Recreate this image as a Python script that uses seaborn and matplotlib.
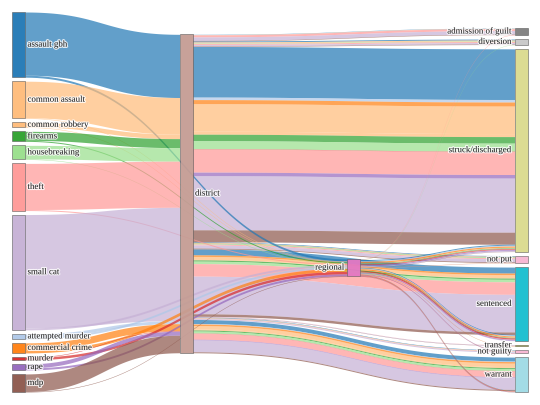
import numpy as np
import pandas as pd
import seaborn as sns
import matplotlib
matplotlib.use("Agg")
import matplotlib.pyplot as plt
from matplotlib import patheffects

# case counts: crime -> court -> outcome
crimes = ["assault gbh", "common assault", "common robbery", "firearms", "housebreaking",
          "theft", "small cat", "attempted murder", "commercial crime", "murder", "rape", "mdp"]
courts = ["district", "regional"]
outcomes = ["admission of guilt", "diversion", "struck/discharged", "not put",
            "sentenced", "transfer", "not guilty", "warrant"]

# columns follow the outcomes list
district_counts = {
    "assault gbh":      [3, 10, 505, 7, 60, 0, 5, 40],
    "common assault":   [3, 10, 275, 7, 30, 0, 5, 35],
    "common robbery":   [0, 0, 30, 0, 5, 0, 0, 10],
    "firearms":         [0, 0, 65, 3, 12, 0, 0, 10],
    "housebreaking":    [0, 5, 80, 5, 25, 0, 0, 20],
    "theft":            [20, 10, 230, 10, 125, 2, 3, 60],
    "small cat":        [35, 15, 540, 30, 375, 5, 10, 120],
    "attempted murder": [0, 0, 25, 0, 0, 0, 0, 5],
    "commercial crime": [0, 0, 40, 0, 15, 0, 0, 15],
    "murder":           [0, 0, 3, 0, 0, 0, 0, 2],
    "rape":             [0, 0, 35, 0, 0, 0, 0, 5],
    "mdp":              [5, 5, 120, 8, 25, 2, 0, 10],
}
regional_counts = {
    "assault gbh":      [0, 0, 10, 0, 7, 0, 0, 3],
    "common assault":   [0, 0, 3, 0, 2, 0, 0, 0],
    "common robbery":   [0, 0, 3, 0, 2, 0, 0, 0],
    "firearms":         [0, 0, 5, 0, 5, 0, 0, 0],
    "housebreaking":    [0, 3, 2, 0, 0, 0, 0, 0],
    "theft":            [4, 0, 3, 0, 3, 0, 0, 0],
    "small cat":        [0, 0, 10, 3, 5, 0, 0, 2],
    "attempted murder": [0, 0, 8, 0, 8, 0, 4, 0],
    "commercial crime": [0, 0, 12, 2, 10, 2, 0, 4],
    "murder":           [0, 0, 7, 0, 12, 0, 3, 3],
    "rape":             [0, 0, 8, 0, 8, 0, 2, 2],
    "mdp":              [0, 0, 2, 0, 0, 1, 0, 2],
}

pal = sns.color_palette("tab20")
node_color = {
    "assault gbh": pal[0], "attempted murder": pal[1], "commercial crime": pal[2],
    "common assault": pal[3], "common robbery": pal[3], "firearms": pal[4],
    "housebreaking": pal[5], "murder": pal[6], "theft": pal[7], "rape": pal[8],
    "small cat": pal[9], "mdp": pal[10], "district": pal[11], "regional": pal[12],
    "not put": pal[13], "not guilty": pal[13], "admission of guilt": pal[14],
    "diversion": pal[15], "transfer": pal[16], "struck/discharged": pal[17],
    "sentenced": pal[18], "warrant": pal[19],
}
# order links of equal endpoints are stacked in
tie_order = ["assault gbh", "attempted murder", "commercial crime", "common assault",
             "common robbery", "firearms", "housebreaking", "murder", "theft", "rape",
             "small cat", "mdp"]

rows = []
for court, table in (("district", district_counts), ("regional", regional_counts)):
    for crime, vals in table.items():
        for outcome, n in zip(outcomes, vals):
            if n > 0:
                rows.append((crime, court, outcome, n))
flows = pd.DataFrame(rows, columns=["crime", "court", "outcome", "n"])

# ---- layout (pixel space) ----
W, H = 540, 405
top, bottom = 12, 392
node_w = 13
pad = 4
col_x = np.linspace(12, 527.5 - node_w, 4)
court_col = {"district": 1, "regional": 2}

crime_tot = flows.groupby("crime")["n"].sum().reindex(crimes)
court_tot = flows.groupby("court")["n"].sum().reindex(courts)
out_tot = flows.groupby("outcome")["n"].sum().reindex(outcomes)
ky = (bottom - top - pad * (len(crimes) - 1)) / crime_tot.sum()

pos = {}  # name -> (x0, y0, height)
y = top
for c in crimes:
    pos[c] = (col_x[0], y, crime_tot[c] * ky)
    y += crime_tot[c] * ky + pad

# courts centred on the mean of their sources
cc = flows.groupby(["crime", "court"])["n"].sum().reset_index()
for ct in courts:
    sub = cc[cc.court == ct]
    centres = np.array([pos[c][1] + pos[c][2] / 2 for c in sub.crime])
    mid = np.average(centres, weights=sub.n)
    h = court_tot[ct] * ky
    pos[ct] = (col_x[court_col[ct]], mid - h / 2, h)

# outcomes stacked up from the bottom
y = bottom
for o in reversed(outcomes):
    h = out_tot[o] * ky
    y -= h
    pos[o] = (col_x[3], y, h)
    y -= pad


def band(ax, x0, ya, yb, x1, yc, yd, color, alpha=0.7, z=1):
    t = np.linspace(0, 1, 80)
    xm = (x0 + x1) / 2
    xs = (1 - t) ** 3 * x0 + 3 * (1 - t) ** 2 * t * xm + 3 * (1 - t) * t ** 2 * xm + t ** 3 * x1
    s = 3 * t ** 2 - 2 * t ** 3
    ax.fill_between(xs, ya + (yc - ya) * s, yb + (yd - yb) * s,
                    color=color, alpha=alpha, lw=0, zorder=z)


sns.set_style("white")
plt.rcParams["font.family"] = ["Liberation Serif", "DejaVu Serif"]
fig = plt.figure(figsize=(5.4, 4.05), dpi=100)
ax = fig.add_axes([0, 0, 1, 1])
ax.set_xlim(0, W)
ax.set_ylim(H, 0)
ax.axis("off")

# court -> outcome links, coloured by crime
out_off = {ct: pos[ct][1] for ct in courts}
in_off = {o: pos[o][1] for o in outcomes}
rank = {c: i for i, c in enumerate(tie_order)}
flows["tie"] = flows.crime.map(rank)
flows["oi"] = flows.outcome.map(outcomes.index)
flows["ci"] = flows.court.map(courts.index)
src_y, dst_y = {}, {}
for ct in courts:
    for _, r in flows[flows.court == ct].sort_values(["oi", "tie"]).iterrows():
        h = r.n * ky
        src_y[r.name] = out_off[ct]
        out_off[ct] += h
for o in outcomes:
    for _, r in flows[flows.outcome == o].sort_values(["ci", "tie"]).iterrows():
        dst_y[r.name] = in_off[o]
        in_off[o] += r.n * ky
for idx, r in flows.iterrows():
    h = r.n * ky
    x0 = pos[r.court][0] + node_w
    band(ax, x0, src_y[idx], src_y[idx] + h, col_x[3],
         dst_y[idx], dst_y[idx] + h, node_color[r.crime], z=1)

# crime -> court links
court_in = {ct: pos[ct][1] for ct in courts}
for c in crimes:
    y0 = pos[c][1]
    for ct in courts:
        n = cc[(cc.crime == c) & (cc.court == ct)]["n"].sum()
        if n == 0:
            continue
        h = n * ky
        yi = court_in[ct]
        band(ax, col_x[0] + node_w, y0, y0 + h, pos[ct][0], yi, yi + h,
             node_color[c], z=2)
        y0 += h
        court_in[ct] += h

# nodes and labels
halo = [patheffects.withStroke(linewidth=1.6, foreground=(1, 1, 1, 0.8))]
for name, (x0, y0, h) in pos.items():
    ax.add_patch(plt.Rectangle((x0, y0), node_w, max(h, 0.8), facecolor=node_color[name],
                               edgecolor="#555555", lw=0.4, alpha=0.95, zorder=3))
    yc = y0 + h / 2
    if x0 < W / 2:
        ax.text(x0 + node_w + 2.5, yc, name, ha="left", va="center", fontsize=6.4,
                color="#222222", zorder=4, path_effects=halo)
    else:
        ax.text(x0 - 2.5, yc, name, ha="right", va="center", fontsize=6.4,
                color="#222222", zorder=4, path_effects=halo)

fig.savefig("out.png", dpi=100, facecolor="white")
